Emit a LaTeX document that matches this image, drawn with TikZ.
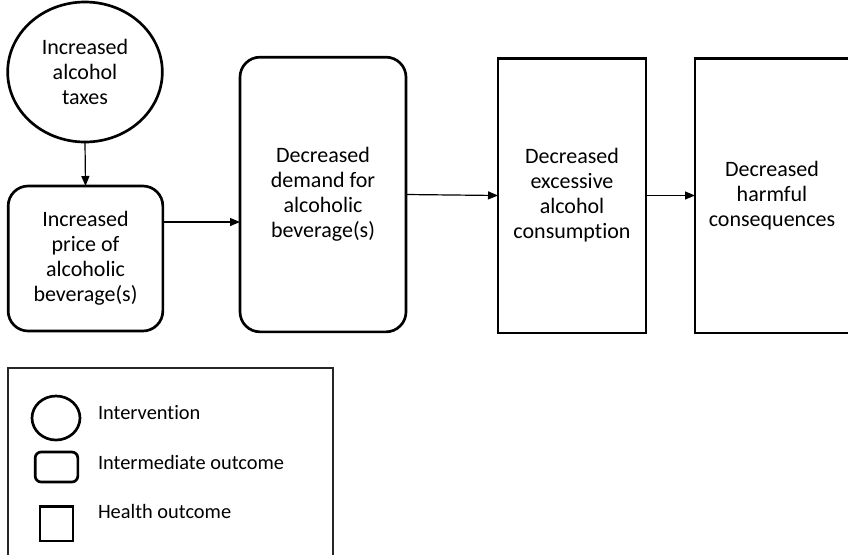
\documentclass[tikz,border=0pt]{standalone}
\usepackage{fontspec}
\setmainfont{Carlito}[Ligatures=NoCommon]
\usetikzlibrary{shapes.geometric,arrows.meta}
\begin{document}
\begin{tikzpicture}[x=0.75pt,y=-0.75pt,
  every node/.style={inner sep=0pt,outer sep=0pt},
  main/.style={font=\fontsize{16.5pt}{18.75pt}\selectfont, align=center, line width=2pt, draw=black},
  oval/.style={main, ellipse},
  inter/.style={main, rectangle, rounded corners=15pt},
  health/.style={main, rectangle},
  arr/.style={line width=0.9pt, -{Triangle[length=7.5pt,width=6pt]}},
  lgsym/.style={draw=black, line width=2pt},
  lgtext/.style={font=\fontsize{15.3pt}{18pt}\selectfont, anchor=west}
]
\useasboundingbox (0,0) rectangle (848,554);
\begin{scope}
\clip (0,0) rectangle (848,554);
\node[oval, minimum width=116pt, minimum height=105pt] (tax) at (85,72) {Increased\\alcohol\\taxes};
\node[inter, minimum width=116pt, minimum height=108.75pt] (price) at (85.5,258.5) {Increased\\price of\\alcoholic\\beverage(s)};
\node[inter, minimum width=124.5pt, minimum height=206pt] (demand) at (323,194.5) {Decreased\\demand for\\alcoholic\\beverage(s)};
\node[health, minimum width=111pt, minimum height=206pt] (cons) at (572,195.5) {Decreased\\excessive\\alcohol\\consumption};
\node[health, minimum width=115.5pt, minimum height=206pt] (harm) at (772,195.5) {Decreased\\harmful\\consequences};

\draw[arr] (tax.south) -- (price.north);
\draw[arr] (price.east |- 0,222) -- (demand.west |- 0,222);
\draw[arr] (demand.east) -- (cons.west);
\draw[arr] (cons.east) -- (harm.west);

\node[draw=black!85, line width=0.8pt, minimum width=243.75pt, minimum height=146pt, anchor=north west] (legend) at (8,368) {};
\node[lgsym, ellipse, minimum width=36pt, minimum height=33pt] (lgoval) at (56,418) {};
\node[lgsym, rectangle, rounded corners=4.5pt, minimum width=32pt, minimum height=22.5pt] (lginter) at (56.5,467) {};
\node[lgsym, rectangle, minimum width=24.75pt, minimum height=26pt] (lghealth) at (56.5,523.5) {};
\node[lgtext] (t1) at (98,413) {Intervention};
\node[lgtext] (t2) at (98,462) {Intermediate outcome};
\node[lgtext] (t3) at (98,511) {Health outcome};
\end{scope}
\end{tikzpicture}
\end{document}
